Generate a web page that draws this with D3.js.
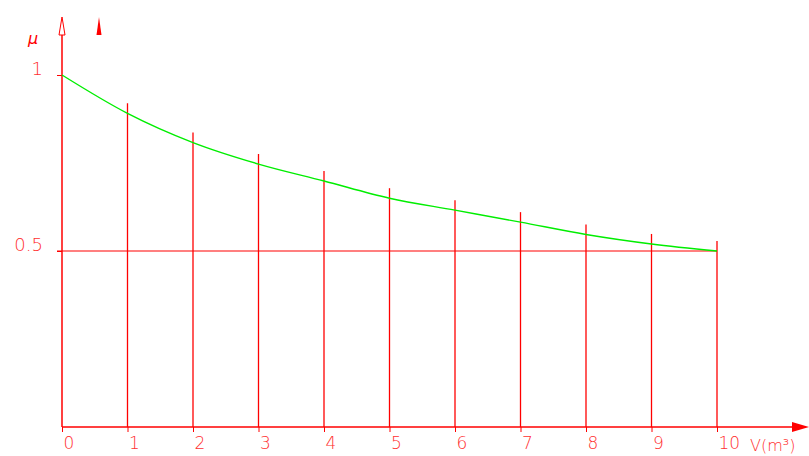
<!DOCTYPE html>
<html>
<head>
<meta charset="utf-8">
<script src="https://cdn.jsdelivr.net/npm/d3@7"></script>
<style>
  body { margin: 0; background: #fff; }
  svg { display: block; }
  .tick text { font-family: "DejaVu Sans", sans-serif; font-weight: 200; fill: #ff3030; }
</style>
</head>
<body>
<div id="chart"></div>
<script>
// volume steps (m3) and the coefficient mu read at each step
const volumes = [0, 1, 2, 3, 4, 5, 6, 7, 8, 9, 10];
const mu = [1.0, 0.891, 0.808, 0.747, 0.699, 0.650, 0.616, 0.582, 0.547, 0.520, 0.5];
const xTickLabels = ["0", "1", "2", "3", "4", "5", "6", "7", "8", "9", "10"];
const yTicks = [0.5, 1];
const yTickLabels = ["0.5", "1"];
const refLevel = 0.5;

window.addEventListener("load", () => {
  const width = 809;
  const height = 456;
  const red = "#ff0000";

  const svg = d3.select("#chart").append("svg")
                .attr("width", width)
                .attr("height", height);

  // scales
  const x = d3.scaleLinear().domain([0, 10]).range([62, 717]);
  const y = d3.scaleLinear().domain([0, 1]).range([427, 75]);

  // x axis
  const xAxis = d3.axisBottom(x)
                  .tickValues(volumes)
                  .tickFormat((d, i) => xTickLabels[i])
                  .tickSize(5)
                  .tickPadding(5);

  const gx = svg.append("g")
      .attr("transform", `translate(0,${y(0)})`)
      .call(xAxis);
  gx.select(".domain").remove();
  gx.selectAll(".tick line").attr("stroke", red);
  gx.selectAll(".tick text")
      .attr("text-anchor", "start")
      .attr("font-size", 17)
      .attr("dx", 1);

  gx.append("line")
      .attr("x1", x(0)).attr("x2", 792)
      .attr("stroke", red)
      .attr("stroke-width", 1.5);

  // solid arrow head at the end of the V axis
  gx.append("path")
      .attr("d", "M792,-5 L809,0 L792,5 Z")
      .attr("fill", red);

  gx.append("text")
      .attr("x", 750)
      .attr("y", 24)
      .attr("text-anchor", "start")
      .attr("font-family", "DejaVu Sans, sans-serif")
      .attr("font-weight", 200)
      .attr("font-size", 16)
      .attr("fill", "#ff3030")
      .text("V(m³)");

  // y axis
  const yAxis = d3.axisLeft(y)
                  .tickValues(yTicks)
                  .tickFormat((d, i) => yTickLabels[i])
                  .tickSize(5)
                  .tickPadding(14);

  const gy = svg.append("g")
      .attr("transform", `translate(${x(0)},0)`)
      .call(yAxis);
  gy.select(".domain").remove();
  gy.selectAll(".tick line").attr("stroke", red);
  gy.selectAll(".tick text")
      .attr("font-size", 18)
      .attr("dy", "-0.05em");

  gy.append("line")
      .attr("y1", y(0)).attr("y2", 35)
      .attr("stroke", red)
      .attr("stroke-width", 1.5);

  // hollow arrow head on the mu axis
  gy.append("path")
      .attr("d", "M0,17 L3,35 L-3,35 Z")
      .attr("fill", "#fff")
      .attr("stroke", red)
      .attr("stroke-width", 1);

  gy.append("text")
      .attr("x", -34)
      .attr("y", 44)
      .attr("text-anchor", "start")
      .attr("font-family", "DejaVu Sans, sans-serif")
      .attr("font-style", "italic")
      .attr("font-size", 16)
      .attr("fill", red)
      .text("μ");

  // small solid arrow next to the axis head
  svg.append("path")
      .attr("transform", `translate(${x(0) + 37},17)`)
      .attr("d", "M0,0 L2.5,18 L-2.5,18 Z")
      .attr("fill", red);

  // reference level
  svg.append("line")
      .attr("x1", x(0) - 5).attr("x2", x(10))
      .attr("y1", y(refLevel)).attr("y2", y(refLevel))
      .attr("stroke", red)
      .attr("stroke-width", 1.2);

  // verticals at each volume step, poking a little above the curve
  const data = volumes.map((v, i) => ({v, mu: mu[i]}));
  svg.append("g")
    .selectAll("line")
    .data(data.slice(1))
    .join("line")
      .attr("x1", d => x(d.v)).attr("x2", d => x(d.v))
      .attr("y1", y(0))
      .attr("y2", d => y(d.mu) - 10)
      .attr("stroke", red)
      .attr("stroke-width", 1.3);

  // mu curve
  const line = d3.line()
                 .x(d => x(d.v))
                 .y(d => y(d.mu))
                 .curve(d3.curveMonotoneX);

  svg.append("path")
      .datum(data)
      .attr("d", line)
      .attr("fill", "none")
      .attr("stroke", "#00ee00")
      .attr("stroke-width", 1.4);
});
</script>
</body>
</html>
